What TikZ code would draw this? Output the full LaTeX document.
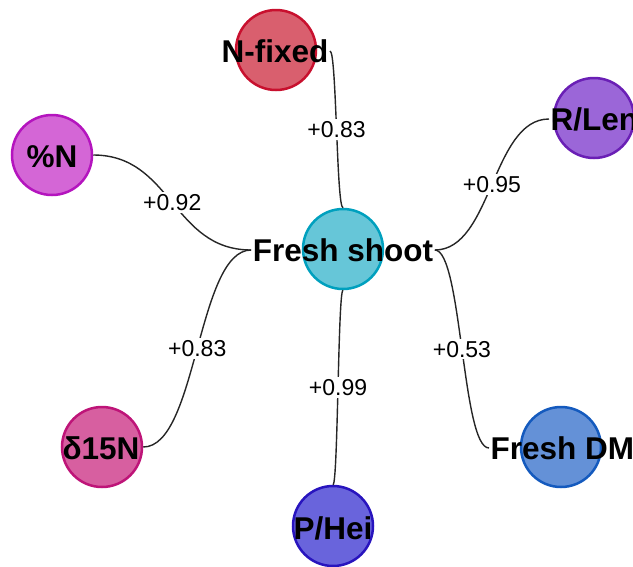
\documentclass[tikz,border=0pt]{standalone}
\usepackage{fontspec}
\setmainfont{Liberation Sans}
\usetikzlibrary{calc}
\definecolor{nfill}{HTML}{D95F6E}\definecolor{ndraw}{HTML}{C8102E}
\definecolor{rfill}{HTML}{9B66D8}\definecolor{rdraw}{HTML}{6A1FB5}
\definecolor{pnfill}{HTML}{D466D6}\definecolor{pndraw}{HTML}{B414BE}
\definecolor{cfill}{HTML}{66C6D8}\definecolor{cdraw}{HTML}{00A0BE}
\definecolor{dfill}{HTML}{D75FA0}\definecolor{ddraw}{HTML}{BE1478}
\definecolor{pfill}{HTML}{6964DC}\definecolor{pdraw}{HTML}{2814BE}
\definecolor{ffill}{HTML}{6491D7}\definecolor{fdraw}{HTML}{145ABE}
\begin{document}
\begin{tikzpicture}[x=1pt,y=-1pt,
  bub/.style={circle, minimum size=80pt, line width=2.5pt, inner sep=0pt},
  txt/.style={font=\bfseries\fontsize{31.5}{36}\selectfont, inner sep=1.5pt, text height=22.5pt, text depth=0pt},
  lbl/.style={font=\fontsize{23}{27}\selectfont, fill=white, inner sep=2pt, text height=16.5pt, text depth=0pt},
  conn/.style={line width=1.4pt, draw=black!85},
  hlink/.style={to path={let \p1=(\tikztostart), \p2=(\tikztotarget) in
      .. controls ({0.5*\x1+0.5*\x2},\y1) and ({0.5*\x1+0.5*\x2},\y2) .. (\tikztotarget) \tikztonodes}}]
\useasboundingbox (0,0) rectangle (633,566);
% circles
\node[bub, fill=cfill, draw=cdraw] (cC) at (343,249) {};
\node[bub, fill=nfill, draw=ndraw] (nC) at (276,50) {};
\node[bub, fill=rfill, draw=rdraw] (rC) at (594,118) {};
\node[bub, fill=pnfill, draw=pndraw] (pnC) at (52,155) {};
\node[bub, fill=dfill, draw=ddraw] (dC) at (102,447) {};
\node[bub, fill=pfill, draw=pdraw] (pC) at (333,526) {};
\node[bub, fill=ffill, draw=fdraw] (fC) at (561,447) {};
% texts
\node[txt] (cT) at (343,250) {Fresh shoot};
\node[txt] (nT) at (275,51) {N-fixed};
\node[txt, anchor=west] (rT) at (549,119) {R/Len};
\node[txt] (pnT) at (52,156) {\%N};
\node[txt] (dT) at (101,448) {δ15N};
\node[txt] (pT) at (333,528) {P/Hei};
\node[txt, anchor=west] (fT) at (489,448) {Fresh DM};
% connectors
\draw[conn] (nT.east) to[hlink] node[lbl]{+0.83} (cC.north);
\draw[conn] (rT.west) to[hlink] node[lbl]{+0.95} (cT.east);
\draw[conn] (pnC.east) to[hlink] node[lbl]{+0.92} (cT.west);
\draw[conn] (dC.east) to[hlink] node[lbl]{+0.83} (cT.west);
\draw[conn] (pC.north) to[hlink] node[lbl]{+0.99} (cC.south);
\draw[conn] (fT.west) to[hlink] node[lbl]{+0.53} (cT.east);
\end{tikzpicture}
\end{document}
